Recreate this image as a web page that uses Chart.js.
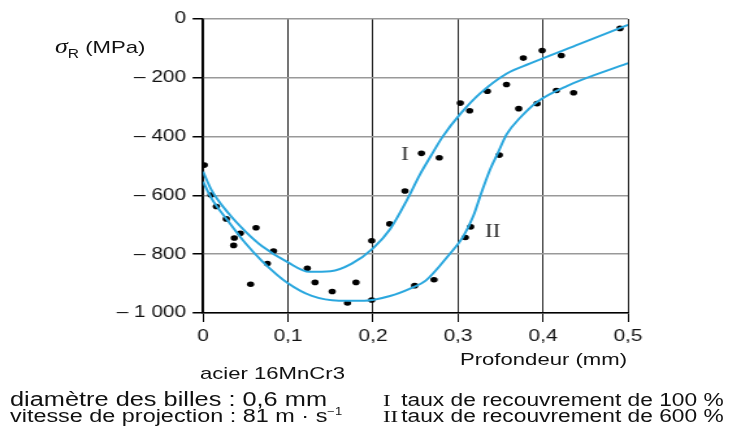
<!DOCTYPE html>
<html>
<head>
<meta charset="utf-8">
<script src="https://cdn.jsdelivr.net/npm/chart.js@4.4.1/dist/chart.umd.min.js"></script>
<style>
  html, body { margin: 0; padding: 0; background: #fff; }
  #wrap { position: absolute; left: 0; top: 0; height: 427px; transform: scaleX(1.3); transform-origin: 0 0; }
  #wrap canvas { position: absolute; left: 0; top: 0; }
  .txt { position: absolute; font-family: "Liberation Sans", Arial, sans-serif; font-size: 17px; color: #111; white-space: nowrap; line-height: 1; }
  #tDiam { font-size: 19.5px; }
  #tVit { font-size: 18px; }
  .leg { font-size: 17.5px; }
  .rom { font-family: "Liberation Serif", serif; display: inline-block; width: 14px; }
  sup { font-size: 10px; vertical-align: 7px; }
  sub { font-size: 12px; vertical-align: -5px; }
</style>
</head>
<body>
<div id="wrap">
  <canvas id="graf" width="562" height="427"></canvas>
  <div class="txt" id="tTitreY"><i style="font-family:'Liberation Serif',serif;font-size:20px">σ</i><sub>R</sub> (MPa)</div>
  <div class="txt" id="tAxeX">Profondeur (mm)</div>
  <div class="txt" id="tAcier">acier 16MnCr3</div>
  <div class="txt" id="tDiam">diamètre des billes : 0,6 mm</div>
  <div class="txt" id="tVit">vitesse de projection : 81 m · s<sup>−1</sup></div>
  <div class="txt leg" id="tLeg1"><span class="rom">I</span>taux de recouvrement de 100 %</div>
  <div class="txt leg" id="tLeg2"><span class="rom">II</span>taux de recouvrement de 600 %</div>
</div>
<script>
const S = 1.3;

// mesures (points)
const pointsX = [0.0015, 0.0094, 0.0157, 0.0274, 0.0439, 0.0368, 0.036, 0.0624, 0.083, 0.0757, 0.056,
  0.1227, 0.1318, 0.152, 0.170, 0.180, 0.1985, 0.1985, 0.2196, 0.2376, 0.257, 0.278, 0.249, 0.2718,
  0.3086, 0.3149, 0.3486, 0.3027, 0.3137, 0.3345, 0.357, 0.3714, 0.393, 0.3768, 0.399, 0.4215,
  0.4157, 0.436, 0.4906];
const pointsY = [-497, -599, -638, -680, -729, -745, -770, -710, -789, -832, -902,
  -848, -896, -927, -966, -896, -956, -754, -697, -585, -457, -472, -907, -887,
  -743, -707, -463, -286, -312, -246, -223, -305, -288, -133, -107, -124,
  -243, -251, -32];

// courbe I : taux de recouvrement 100 %
const courbeIX = [0, 0.01, 0.03, 0.05, 0.07, 0.1, 0.125, 0.15, 0.175, 0.2, 0.22, 0.24, 0.255, 0.268, 0.282, 0.303, 0.326, 0.357, 0.385, 0.444, 0.5];
const courbeIY = [-519, -582, -661, -723, -774, -828, -860, -858, -832, -780, -715, -615, -530, -466, -400, -322, -253, -186, -151, -84, -20];

// courbe II : taux de recouvrement 600 %
const courbeIIX = [0, 0.01, 0.03, 0.05, 0.07, 0.1, 0.128, 0.16, 0.19, 0.22, 0.245, 0.262, 0.29, 0.306, 0.318, 0.327, 0.338, 0.347, 0.357, 0.373, 0.393, 0.428, 0.5];
const courbeIIY = [-553, -610, -689, -763, -825, -899, -942, -958, -958, -942, -915, -890, -800, -740, -670, -595, -510, -455, -393, -336, -282, -228, -150];

const ticksX = [0, 0.1, 0.2, 0.3, 0.4, 0.5];
const labelsX = ['0', '0,1', '0,2', '0,3', '0,4', '0,5'];
const ticksY = [0, -200, -400, -600, -800, -1000];
const labelsY = ['0', '– 200', '– 400', '– 600', '– 800', '– 1 000'];

// étiquettes I / II dans le graphique
const etiquettes = [
  { texte: 'I', x: 0.2376, y: -463 },
  { texte: 'II', x: 0.341, y: -724 }
];

const bleu = '#2aa7de';
const police = '"Liberation Sans", Arial, sans-serif';

function paires(xs, ys) {
  return xs.map((x, i) => ({ x: x, y: ys[i] }));
}

function placer(id, x, y, droite) {
  const el = document.getElementById(id);
  el.style.top = y + 'px';
  if (droite) {
    el.style.right = (562 - x / S) + 'px';
  } else {
    el.style.left = (x / S) + 'px';
  }
}

document.getElementById('wrap').style.width = '562px';
placer('tTitreY', 55, 36);
placer('tAxeX', 627, 351, true);
placer('tAcier', 200, 365);
placer('tDiam', 10, 390);
placer('tVit', 10, 407);
placer('tLeg1', 383, 392);
placer('tLeg2', 383, 408);

const pluginEtiquettes = {
  id: 'etiquettes',
  afterDatasetsDraw(chart) {
    const ctx = chart.ctx;
    ctx.save();
    ctx.font = '18px "Liberation Serif", serif';
    ctx.fillStyle = '#333';
    ctx.textAlign = 'center';
    ctx.textBaseline = 'middle';
    etiquettes.forEach(e => {
      ctx.fillText(e.texte, chart.scales.x.getPixelForValue(e.x), chart.scales.y.getPixelForValue(e.y));
    });
    ctx.restore();
  }
};

new Chart(document.getElementById('graf'), {
  type: 'scatter',
  data: {
    datasets: [
      {
        label: 'I',
        data: paires(courbeIX, courbeIY),
        showLine: true,
        borderColor: bleu,
        borderWidth: 2,
        pointRadius: 0,
        cubicInterpolationMode: 'monotone'
      },
      {
        label: 'II',
        data: paires(courbeIIX, courbeIIY),
        showLine: true,
        borderColor: bleu,
        borderWidth: 2,
        pointRadius: 0,
        cubicInterpolationMode: 'monotone'
      },
      {
        label: 'mesures',
        data: paires(pointsX, pointsY),
        backgroundColor: '#000',
        borderWidth: 0,
        pointRadius: 2.8
      }
    ]
  },
  options: {
    responsive: false,
    animation: false,
    layout: { padding: { left: 0, right: 562 - 628 / S, top: 19, bottom: 0 } },
    plugins: {
      legend: { display: false },
      tooltip: { enabled: false }
    },
    scales: {
      x: {
        type: 'linear',
        min: 0,
        max: 0.5,
        afterBuildTicks: s => { s.ticks = ticksX.map(v => ({ value: v })); },
        afterFit: s => { s.height = 427 - 313; s.paddingLeft = 0; s.paddingRight = 0; },
        ticks: {
          padding: 5,
          color: '#111',
          font: { family: police, size: 16 },
          callback: (v, i) => labelsX[i]
        },
        grid: { color: '#222', lineWidth: 1, tickColor: '#000', tickLength: 9 },
        border: { color: '#000', width: 1.5 }
      },
      y: {
        type: 'linear',
        min: -1000,
        max: 0,
        afterBuildTicks: s => { s.ticks = ticksY.map(v => ({ value: v })); },
        afterFit: s => { s.width = 203 / S; s.paddingTop = 0; s.paddingBottom = 0; },
        ticks: {
          padding: 5,
          color: '#111',
          font: { family: police, size: 16 },
          callback: v => labelsY[ticksY.indexOf(v)]
        },
        grid: { color: '#999', lineWidth: 1.5, tickColor: '#000', tickLength: 8 },
        border: { color: '#000', width: 1.5 }
      }
    }
  },
  plugins: [pluginEtiquettes]
});
</script>
</body>
</html>
